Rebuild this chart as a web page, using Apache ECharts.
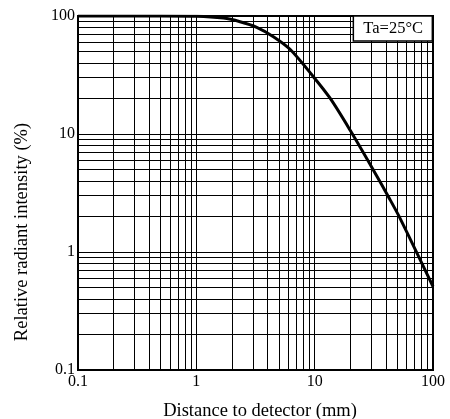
<!DOCTYPE html>
<html lang="en">
<head>
    <meta charset="UTF-8">
    <title>Relative radiant intensity vs distance</title>
    <script src="https://cdn.jsdelivr.net/npm/echarts@6/dist/echarts.min.js"></script>
    <style>
        html, body { margin: 0; padding: 0; background: #fff; }
        #chart { width: 450px; height: 419px; }
    </style>
</head>
<body>
<div id="chart"></div>
<script>
    // values
    var distance = [0.1, 0.5, 1, 1.69, 2.34, 3.24, 4.48, 6.19, 9.75, 13.5, 19.9, 31.3, 42, 52.7, 100];
    var intensity = [100, 100, 99.5, 96, 89.5, 80.2, 66.8, 52.2, 30.6, 20.1, 10.8, 4.96, 2.94, 1.93, 0.51];
    var decades = [0.1, 1, 10];
    var minorSteps = [2, 3, 4, 5, 6, 7, 8, 9];
    var yDecades = [0.1, 1, 10];

    var font = 'Liberation Serif';

    // minor grid lines (2..9 in each decade)
    var xMinor = [], yMinor = [];
    decades.forEach(function (d) {
        minorSteps.forEach(function (s) { xMinor.push({ xAxis: +(d * s).toPrecision(3) }); });
    });
    yDecades.forEach(function (d) {
        minorSteps.forEach(function (s) { yMinor.push({ yAxis: +(d * s).toPrecision(3) }); });
    });

    var curve = [];
    for (var i = 0; i < distance.length; i++) {
        curve.push([distance[i], intensity[i]]);
    }

    var myChart = echarts.init(document.getElementById('chart'), null, { renderer: 'canvas' });

    var option = {
        animation: false,
        title: {
            text: 'Ta=25°C',
            right: 17,
            top: 16,
            padding: [4, 10, 4, 10],
            backgroundColor: '#fff',
            borderColor: '#000',
            borderWidth: 1.5,
            textStyle: { fontFamily: font, fontSize: 16.5, fontWeight: 'normal', color: '#000', lineHeight: 17 }
        },
        grid: {
            left: 78, top: 16, width: 355, height: 354,
            containLabel: false,
            outerBoundsMode: 'none',
            show: true, borderColor: '#000', borderWidth: 2
        },
        xAxis: {
            type: 'log', logBase: 10, min: 0.1, max: 100,
            name: 'Distance to detector (mm)',
            nameLocation: 'middle', nameGap: 32,
            nameTextStyle: { fontFamily: font, fontSize: 18.5, color: '#000', padding: [0, 0, 0, 9] },
            axisLine: { show: true, lineStyle: { color: '#000', width: 2 } },
            axisTick: { show: false },
            axisLabel: { fontFamily: font, fontSize: 16, color: '#000', margin: 4 },
            splitLine: { show: true, lineStyle: { color: '#000', width: 1 } }
        },
        yAxis: {
            type: 'log', logBase: 10, min: 0.1, max: 100,
            name: 'Relative radiant intensity (%)',
            nameLocation: 'middle', nameGap: 46,
            nameTextStyle: { fontFamily: font, fontSize: 18.5, color: '#000', padding: [0, 78, 0, 0] },
            axisLine: { show: true, lineStyle: { color: '#000', width: 2 } },
            axisTick: { show: false },
            axisLabel: { fontFamily: font, fontSize: 16, color: '#000', margin: 3 },
            splitLine: { show: true, lineStyle: { color: '#000', width: 1 } }
        },
        series: [{
            name: 'grid',
            type: 'line',
            data: [],
            silent: true,
            markLine: {
                silent: true,
                symbol: ['none', 'none'],
                label: { show: false },
                lineStyle: { color: '#000', width: 1, type: 'solid' },
                data: xMinor.concat(yMinor)
            }
        }, {
            name: 'intensity',
            type: 'line',
            smooth: 0.3,
            showSymbol: false,
            z: 5,
            lineStyle: { color: '#000', width: 3 },
            data: curve
        }]
    };
    myChart.setOption(option);
</script>
</body>
</html>
